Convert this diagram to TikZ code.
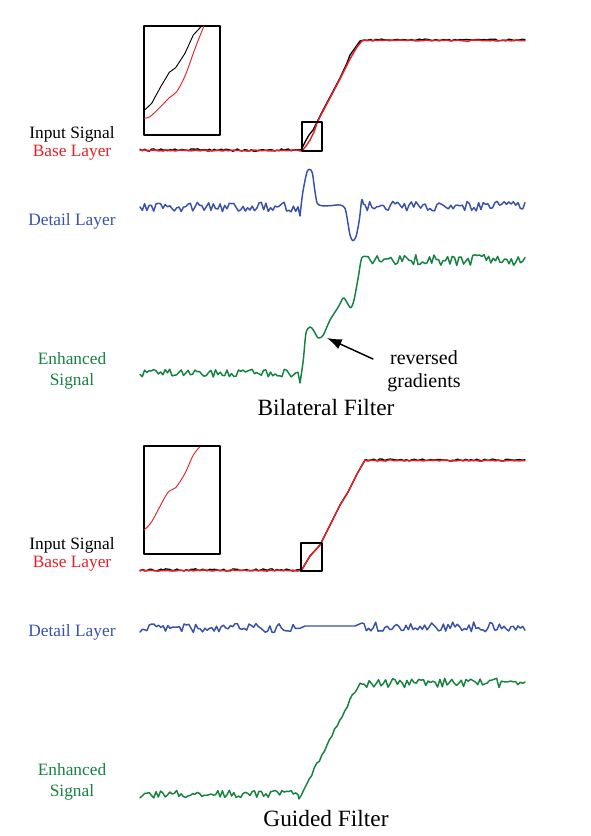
\documentclass[tikz,border=0pt]{standalone}
\usepackage{fontspec}
\setmainfont{Liberation Serif}
\usetikzlibrary{arrows.meta}
\definecolor{baseRed}{RGB}{232,32,38}
\definecolor{detailBlue}{RGB}{55,82,168}
\definecolor{enhGreen}{RGB}{22,130,66}
\begin{document}
\begin{tikzpicture}[x=0.75pt,y=-0.75pt,line join=round,line cap=round,
	inp/.style={black,line width=1pt},
	base/.style={baseRed,line width=1.1pt},
	detail/.style={detailBlue,line width=1.1pt},
	enh/.style={enhGreen,line width=1.1pt},
	zoomline/.style={line width=0.7pt},
	boxline/.style={black,line width=0.8pt},
	lbl/.style={font=\fontsize{13}{15.8}\selectfont,align=center},
	ttl/.style={font=\fontsize{17.5}{20}\selectfont},
	pointer/.style={line width=1.1pt,-{Latex[length=11pt,width=8pt]}}]
		\tikzstyle{every node}+=[inner sep=0pt]
		\useasboundingbox (0,0) rectangle (591,836);
		\pgfmathsetseed{2718}
		\node [lbl] (inA) at (72,134) {Input Signal};
		\node [lbl,text=baseRed] (baseA) at (72,153) {Base Layer};
		\node [lbl,text=detailBlue] (detA) at (72,221) {Detail Layer};
		\node [lbl,text=enhGreen] (enhA) at (72,371) {Enhanced\\Signal};
		\node [ttl] (bilat) at (326,408) {Bilateral Filter};
		\node [lbl,font=\fontsize{15}{17.3}\selectfont] (revlbl) at (424,371) {reversed\\gradients};
		\coordinate (revtail) at (373,359);
		\coordinate (revtip) at (327,338);
		\draw [pointer] (revtail) -- (revtip);
		\draw [inp] plot [domain=140:300,samples=70] (\x,{150+1.2*rand}) -- (301,150) -- (305,142) -- (309,135) -- (313,130) -- (317,122) -- (322,112) -- (330,97) -- (340,78) -- (347,63) -- (350,55) -- (355,48) -- (360,41) -- (364,40) -- plot [domain=365:525,samples=60] (\x,{40+1*rand});
		\draw [base] plot [domain=140:300,samples=70] (\x,{150.5+0.6*rand}) -- (302,151) -- (306,146) -- (310,140) -- (314,132) -- (317,123) -- (322,113) -- (330,98) -- (340,79) -- (350,59) -- (357,47) -- (362,41) -- (366,40) -- plot [domain=367:525,samples=60] (\x,{40.5+0.6*rand});
		\draw [boxline] (144,26) rectangle (220,135);
		\draw [boxline] (302,122) rectangle (322,151);
		\draw [inp,zoomline] (144,110.7) -- (151.7,103.3) -- (160,88) -- (169.3,72.3) -- (175.7,67.7) -- (185,53.3) -- (193.3,35) -- (201.7,26);
		\draw [base,zoomline] plot [smooth] coordinates {(144,118.3) (150,116.7) (160,107.3) (169.3,97.7) (176.7,91.7) (185,76) (193.3,53.3) (198.3,40) (204,26)};
		\draw [detail] plot [domain=140:298,samples=70] (\x,{207+5*rand}) -- plot [smooth] coordinates {(300,216) (302.7,193) (306.7,173) (309.3,169.3) (312.3,172.7) (315,191.7) (317.3,203.3) (321.7,205.7) (330,205.7) (340,205) (345,208.3) (347.7,221.7) (350,235) (352.7,240.7) (356,236.7) (359.3,220) (361.7,200) (363.3,204)} -- plot [domain=365:525,samples=70] (\x,{206+5*rand});
		\draw [enh] plot [domain=140:298,samples=70] (\x,{373+4*rand}) -- plot [smooth] coordinates {(300,383) (303.3,360) (306,333) (310,327) (313.3,330) (318.3,338) (323.3,335) (330,320) (338.3,307) (343.3,298) (346.7,302) (350.7,307.7) (354,300) (358.3,277) (361.7,258) (366.7,256.7)} -- plot [domain=368:525,samples=70] (\x,{260+5.5*rand});
		\node [lbl] (inB) at (72,545) {Input Signal};
		\node [lbl,text=baseRed] (baseB) at (72,564) {Base Layer};
		\node [lbl,text=detailBlue] (detB) at (72,632) {Detail Layer};
		\node [lbl,text=enhGreen] (enhB) at (72,782) {Enhanced\\Signal};
		\node [ttl] (guided) at (326,819) {Guided Filter};
		\draw [inp] plot [domain=140:300,samples=70] (\x,{570+1.2*rand}) -- (301,571) -- (310,556) -- (320,545) -- (330,525) -- (340,505) -- (348,492) -- (357,474) -- (365,460) -- plot [domain=366:525,samples=60] (\x,{460+1*rand});
		\draw [base] plot [domain=140:300,samples=70] (\x,{570.5+0.6*rand}) -- (301,571) -- (310,556) -- (320,545) -- (330,525) -- (340,505) -- (348,492) -- (357,474) -- (365,460) -- plot [domain=367:525,samples=60] (\x,{460.5+0.6*rand});
		\draw [boxline] (144,446) rectangle (220,554);
		\draw [boxline] (301,543) rectangle (322,571);
		\draw [base,zoomline] plot [smooth] coordinates {(144,530) (151.7,521.7) (167.3,493.3) (175.7,487.7) (185,473.3) (193.3,455) (200,446.7)};
		\draw [detail] plot [domain=140:300,samples=70] (\x,{628+4.5*rand}) -- (305,626) -- (355,626) -- (362,623) -- plot [domain=364:525,samples=70] (\x,{627+5*rand});
		\draw [enh] plot [domain=140:298,samples=70] (\x,{794+4*rand}) -- plot [domain=299:360,samples=25] (\x,{800-(\x-298)*118/62+2*rand}) -- plot [domain=362:525,samples=70] (\x,{683+5*rand});
	\end{tikzpicture}
\end{document}
